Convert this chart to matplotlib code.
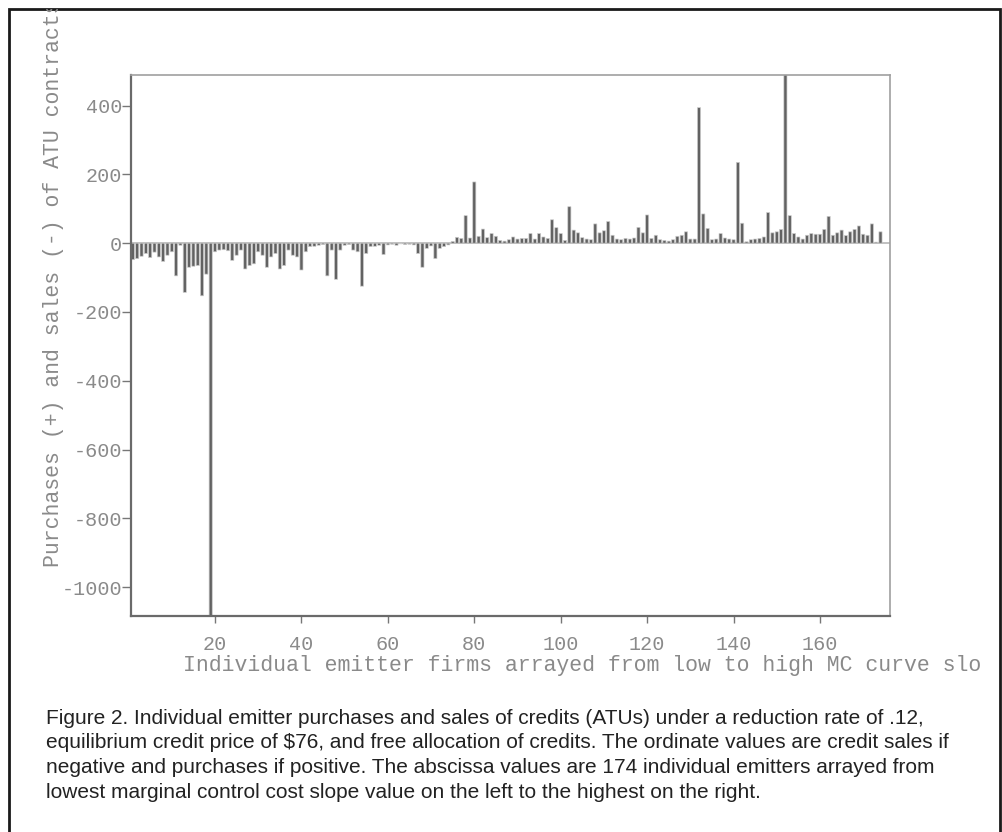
import matplotlib.pyplot as plt
from matplotlib.patches import Rectangle
from matplotlib.transforms import Bbox, TransformedBbox
import numpy as np

plt.rcParams['axes.unicode_minus'] = False

# Emitter firms 1..174 and their net purchases (+) / sales (-) of ATU credits
firms = np.arange(1, 175)
net_credits = [
    -48, -45, -38, -30, -42, -26, -40, -53, -35, -25,
    -95, -6, -143, -70, -67, -65, -153, -90, -1090, -25,
    -20, -19, -22, -50, -35, -20, -75, -65, -60, -25,
    -35, -70, -40, -30, -75, -65, -20, -35, -40, -78,
    -25, -10, -9, -6, -4, -95, -20, -105, -20, -6,
    -4, -20, -25, -125, -30, -10, -9, -6, -33, -5,
    -3, -6, -2, -4, -3, -5, -30, -70, -15, -8,
    -45, -15, -10, -5, 5, 17, 14, 80, 15, 178,
    20, 41, 16, 28, 20, 8, 6, 10, 18, 12,
    14, 14, 28, 12, 28, 18, 14, 68, 45, 28,
    8, 106, 38, 30, 16, 12, 10, 56, 30, 36,
    63, 23, 12, 10, 14, 12, 15, 46, 30, 82,
    14, 23, 10, 8, 6, 10, 20, 23, 33, 12,
    12, 394, 85, 43, 10, 12, 28, 15, 12, 10,
    235, 58, 4, 10, 12, 14, 18, 89, 30, 33,
    40, 490, 80, 28, 18, 12, 23, 28, 26, 26,
    40, 78, 23, 30, 38, 22, 33, 40, 50, 26,
    23, 56, 3, 33,
]
y_ticks = [-1000, -800, -600, -400, -200, 0, 200, 400]
x_ticks = [20, 40, 60, 80, 100, 120, 140, 160]

x_label = "Individual emitter firms arrayed from low to high MC curve slo"
y_label = "Purchases (+) and sales (-) of ATU contracts"
caption_lines = [
    "Figure 2. Individual emitter purchases and sales of credits (ATUs) under a reduction rate of .12,",
    "equilibrium credit price of $76, and free allocation of credits. The ordinate values are credit sales if",
    "negative and purchases if positive. The abscissa values are 174 individual emitters arrayed from",
    "lowest marginal control cost slope value on the left to the highest on the right.",
]

W, H = 1002, 832
fig = plt.figure(figsize=(W / 100, H / 100), dpi=100)
fig.patch.set_facecolor('white')

# axes placed by pixel box
ax = fig.add_axes([131 / W, 1 - 616 / H, 759 / W, 541 / H])

# thin line of tiny bar caps along zero
ax.axhline(0, color='#b5b5b5', linewidth=1.2, zorder=1)

# dark bars with a light rim (rough stand-in for the old 3D bars)
bars = ax.bar(firms, net_credits, width=0.72, color='#626262',
              edgecolor='#cccccc', linewidth=0.5, zorder=2)
for b in bars:
    b.set_snap(False)

ax.set_xlim(0.56, 176.2)
ax.set_ylim(-1084, 489)
ax.set_xticks(x_ticks)
ax.set_yticks(y_ticks)

mono = 'Liberation Mono'
for lab in ax.get_xticklabels() + ax.get_yticklabels():
    lab.set_fontfamily(mono)
    lab.set_fontsize(14.5)
    lab.set_color('#8a8a8a')

ax.tick_params(axis='y', direction='out', length=6.5, width=1, color='#777777', pad=0)
ax.tick_params(axis='x', direction='out', length=5, width=1, color='#777777', pad=9)

for side in ['left', 'bottom']:
    ax.spines[side].set_color('#6a6a6a')
    ax.spines[side].set_linewidth(1.6)
for side in ['top', 'right']:
    ax.spines[side].set_color('#a0a0a0')
    ax.spines[side].set_linewidth(1.2)

# axis titles
fig.text(183 / W, 1 - 665 / H, x_label, fontfamily=mono, fontsize=15.5,
         color='#8a8a8a', ha='left', va='center')
ylab = fig.text(54 / W, 1 - 567 / H, y_label, fontfamily=mono, fontsize=15.5,
                color='#8a8a8a', rotation=90, ha='center', va='bottom')
ylab.set_clip_box(TransformedBbox(Bbox([[0, 0], [1, 1 - 9 / H]]), fig.transFigure))
ylab.set_clip_on(True)

# caption below the chart
baselines = [724, 748.5, 773, 797.5]
for line, yb in zip(caption_lines, baselines):
    fig.text(46 / W, 1 - yb / H, line, fontfamily='Liberation Sans', fontsize=15,
             color='#222222', ha='left', va='baseline')

# outer frame
frame = Rectangle((8.5 / W, -0.02), (1000 - 8.5) / W, 1.02 - 9 / H,
                  transform=fig.transFigure, fill=False, edgecolor='#1a1a1a', linewidth=2)
fig.patches.append(frame)

fig.savefig('out.png', dpi=100)
